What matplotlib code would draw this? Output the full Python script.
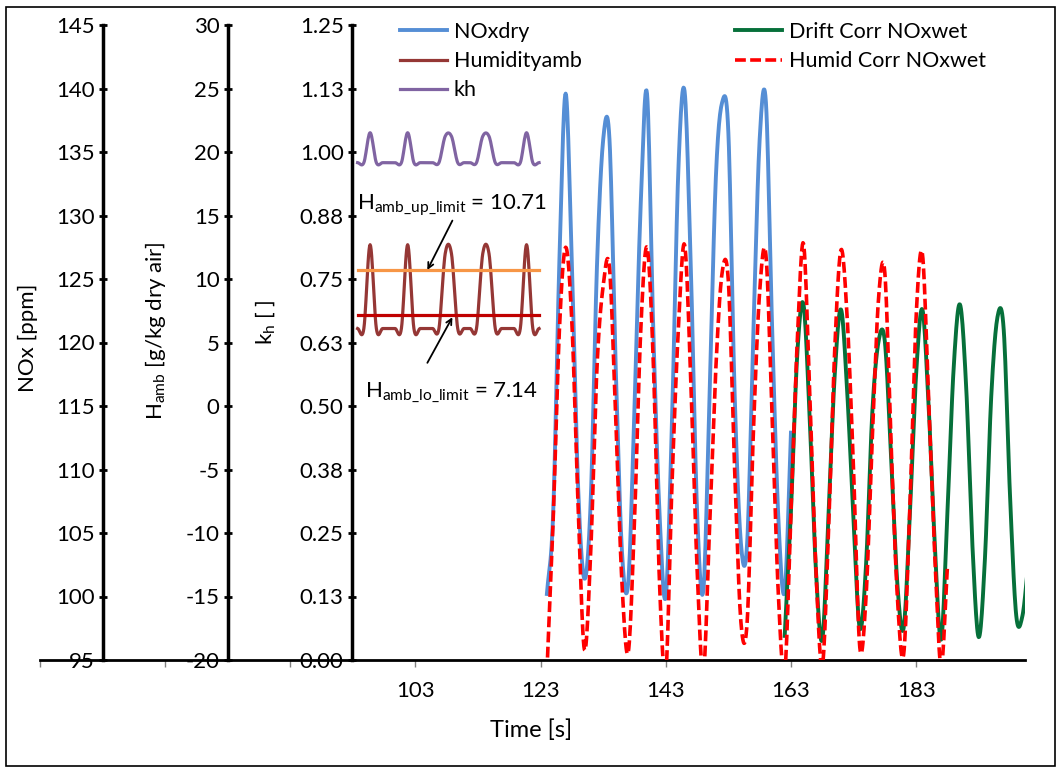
import numpy as np
import matplotlib
matplotlib.use("Agg")
import matplotlib.pyplot as plt
from matplotlib.patches import Rectangle

plt.rcParams['font.family'] = ['Lato', 'DejaVu Sans']
plt.rcParams['mathtext.fontset'] = 'custom'
plt.rcParams['mathtext.rm'] = 'Lato'
plt.rcParams['mathtext.it'] = 'Lato:italic'
plt.rcParams['axes.unicode_minus'] = False

# ---- data (1 s samples) ----
NOX_DRY_T0 = 124
NOX_DRY = [100.2, 106.5, 126.5, 139.6, 126.0, 108.5, 101.4, 107.5, 126.0, 136.0,
           136.0, 118.0, 103.5, 101.1, 115.0, 131.0, 139.6, 121.0, 106.5, 100.0,
           114.0, 133.5, 139.8, 125.9, 106.7, 100.5, 116.0, 133.0, 138.9, 136.5,
           116.0, 104.2, 104.2, 121.0, 136.0, 138.9, 121.0, 106.0, 100.4, 112.9]

HUMID_CORR_T0 = 124
HUMID_CORR = [94.0, 106.0, 121.0, 127.5, 121.5, 107.0, 95.8, 103.5, 118.0, 124.5,
              125.9, 114.0, 101.0, 95.6, 106.0, 121.0, 127.5, 118.5, 101.0, 94.0,
              109.0, 121.0, 127.7, 117.0, 102.2, 94.0, 105.5, 118.0, 125.5, 124.8,
              110.0, 98.0, 98.0, 113.0, 124.0, 126.9, 114.0, 100.0, 94.0, 106.7,
              120.0, 127.8, 116.0, 102.0, 94.5, 105.0, 119.5, 127.3, 121.8, 110.0,
              96.0, 100.0, 112.5, 123.5, 125.5, 112.0, 100.0, 95.4, 107.0, 122.0,
              127.0, 115.5, 103.0, 94.5, 102.3]

DRIFT_CORR_T0 = 162
DRIFT_CORR = [96.9, 106.7, 119.0, 123.0, 114.0, 102.0, 96.6, 106.5, 117.5, 122.6,
              116.0, 106.0, 97.5, 102.5, 114.5, 120.1, 120.1, 111.0, 101.0, 97.5,
              106.5, 117.5, 122.6, 115.0, 104.0, 96.6, 106.6, 118.0, 123.0, 116.5,
              104.0, 96.8, 103.0, 115.7, 122.0, 121.0, 108.0, 98.5, 98.5, 103.0]

HUM_T0 = 93.75
HUMIDITY = [6.1, 6.1, 12.7, 6.1, 6.1, 6.1, 6.1, 6.1, 12.7, 6.1,
            6.1, 6.1, 6.1, 6.1, 12.0, 12.0, 6.1, 6.1, 6.1, 6.1,
            12.0, 12.0, 6.1, 6.1, 6.1, 6.1, 6.1, 12.7, 6.1, 6.1]
KH = [0.979, 0.979, 1.038, 0.979, 0.979, 0.979, 0.979, 0.979, 1.038, 0.979,
      0.979, 0.979, 0.979, 0.979, 1.031, 1.031, 0.979, 0.979, 0.979, 0.979,
      1.031, 1.031, 0.979, 0.979, 0.979, 0.979, 0.979, 1.038, 0.979, 0.979]

H_UP_LIMIT = 10.71
H_LO_LIMIT = 7.14

X_TICKS = [43, 63, 83, 103, 123, 143, 163, 183]
X_LABELS = ['', '', '', '103', '123', '143', '163', '183']
NOX_TICKS = list(range(95, 150, 5))
H_TICKS = list(range(-20, 35, 5))
KH_TICKS = [0.0, 0.125, 0.25, 0.375, 0.5, 0.625, 0.75, 0.875, 1.0, 1.125, 1.25]
KH_LABELS = ['0.00', '0.13', '0.25', '0.38', '0.50', '0.63', '0.75', '0.88',
             '1.00', '1.13', '1.25']

BLUE = '#558ED5'
BROWN = '#953735'
PURPLE = '#8064A2'
GREEN = '#06703A'
RED = '#FF0000'
ORANGE = '#F79646'
DARKRED = '#C00000'
FS = 16


def smooth(x, y, n=12):
    """Catmull-Rom curve through the samples (Excel 'smoothed line' look)."""
    x = np.asarray(x, float); y = np.asarray(y, float)
    xp = np.concatenate([[2 * x[0] - x[1]], x, [2 * x[-1] - x[-2]]])
    yp = np.concatenate([[2 * y[0] - y[1]], y, [2 * y[-1] - y[-2]]])
    s = np.linspace(0, 1, n, endpoint=False)[:, None]

    def cr(p):
        p0, p1, p2, p3 = p[:-3], p[1:-2], p[2:-1], p[3:]
        return 0.5 * (2 * p1 + (p2 - p0) * s + (2 * p0 - 5 * p1 + 4 * p2 - p3) * s ** 2
                      + (-p0 + 3 * p1 - 3 * p2 + p3) * s ** 3)

    xs = np.append(cr(xp).T.ravel(), x[-1])
    ys = np.append(cr(yp).T.ravel(), y[-1])
    return xs, ys


def times(t0, vals):
    return t0 + np.arange(len(vals))


W, H = 1061, 773
L, R, T, B = 40, 1025, 25, 660
fig = plt.figure(figsize=(W / 100, H / 100), dpi=100)
ax = fig.add_axes([L / W, 1 - B / H, (R - L) / W, (B - T) / H])
ax_h = ax.twinx()
ax_k = ax.twinx()

for a, pos in ((ax, 103), (ax_h, 228), (ax_k, 352)):
    for s in ('top', 'right', 'left', 'bottom'):
        a.spines[s].set_visible(False)
    a.spines['left'].set_visible(True)
    a.spines['left'].set_position(('axes', (pos - L) / (R - L)))
    a.spines['left'].set_linewidth(2.5)
    a.yaxis.set_ticks_position('left')
    a.yaxis.set_label_position('left')
    a.tick_params(axis='y', direction='inout', length=6, width=2.0, labelsize=FS, pad=3)
    a.patch.set_visible(False)

ax.spines['bottom'].set_visible(True)
ax.spines['bottom'].set_linewidth(2.0)
ax.set_xlim(43, 200.4)
ax.set_xticks(X_TICKS)
ax.set_xticklabels(X_LABELS)
ax.tick_params(axis='x', direction='out', length=5, width=1, color='#808080',
               labelsize=FS, pad=10)

ax.set_ylim(95, 145)
ax.set_yticks(NOX_TICKS)
ax_h.set_ylim(-20, 30)
ax_h.set_yticks(H_TICKS)
ax_k.set_ylim(0, 1.25)
ax_k.set_yticks(KH_TICKS)
ax_k.set_yticklabels(KH_LABELS)

# series
l_nox, = ax.plot(*smooth(times(NOX_DRY_T0, NOX_DRY), NOX_DRY), color=BLUE, lw=2.8,
                 label='NOxdry')
l_hum, = ax_h.plot(*smooth(times(HUM_T0, HUMIDITY), HUMIDITY), color=BROWN, lw=2.3,
                   label='Humidityamb')
l_kh, = ax_k.plot(*smooth(times(HUM_T0, KH), KH), color=PURPLE, lw=2.3, label='kh')
t_h = times(HUM_T0, HUMIDITY)
ax_h.plot([t_h[0], t_h[-1]], [H_UP_LIMIT, H_UP_LIMIT], color=ORANGE, lw=2.3)
ax_h.plot([t_h[0], t_h[-1]], [H_LO_LIMIT, H_LO_LIMIT], color=DARKRED, lw=2.3)
l_drift, = ax_k.plot(*smooth(times(DRIFT_CORR_T0, DRIFT_CORR), DRIFT_CORR),
                     color=GREEN, lw=2.8, label='Drift Corr NOxwet',
                     transform=ax.transData)
l_hc, = ax_k.plot(*smooth(times(HUMID_CORR_T0, HUMID_CORR), HUMID_CORR),
                  color=RED, lw=2.6, dashes=(3, 1.2), label='Humid Corr NOxwet',
                  transform=ax.transData)
for ln in (l_drift, l_hc):
    ln.set_clip_box(ax.bbox)

# limit annotations
arrow = dict(arrowstyle='->', color='black', lw=1.3, shrinkA=0, shrinkB=0)
ax_h.annotate('', xy=(104.9, H_UP_LIMIT), xytext=(108.9, 14.6), arrowprops=arrow)
ax_h.annotate('', xy=(108.9, H_LO_LIMIT - 0.15), xytext=(104.9, 3.4), arrowprops=arrow)
ax_h.text(93.6, 15.8, r'H$_{\mathregular{amb\_up\_limit}}$ = 10.71', fontsize=FS,
          ha='left', va='center')
ax_h.text(94.9, 1.1, r'H$_{\mathregular{amb\_lo\_limit}}$ = 7.14', fontsize=FS,
          ha='left', va='center')

# axis titles
fig.text(28 / W, 1 - 338 / H, 'NOx [ppm]', rotation=90, ha='center', va='center',
         fontsize=FS)
fig.text(155 / W, 1 - 331 / H, r'H$_{\mathregular{amb}}$ [g/kg dry air]', rotation=90,
         ha='center', va='center', fontsize=FS)
fig.text(265 / W, 1 - 322 / H, r'k$_{\mathregular{h}}$ [ ]', rotation=90, ha='center',
         va='center', fontsize=FS)
fig.text(531 / W, 1 - 730 / H, 'Time [s]', ha='center', va='center', fontsize=FS + 1)

# legends
leg_kw = dict(loc='upper left', frameon=False, fontsize=15.5, borderpad=0,
              borderaxespad=0, handlelength=2.2, handletextpad=0.3, labelspacing=0.42,
              bbox_transform=fig.transFigure)
fig.legend(handles=[l_nox, l_hum, l_kh], bbox_to_anchor=(400 / W, 1 - 22 / H), **leg_kw)
fig.legend(handles=[l_drift, l_hc], bbox_to_anchor=(735 / W, 1 - 22 / H), **leg_kw)

# outer chart frame
fig.patches.append(Rectangle((6 / W, 1 - 766 / H), 1049 / W, 759 / H,
                             transform=fig.transFigure, fill=False, edgecolor='black',
                             lw=1.2))

fig.savefig('out.png', dpi=100, facecolor='white')
